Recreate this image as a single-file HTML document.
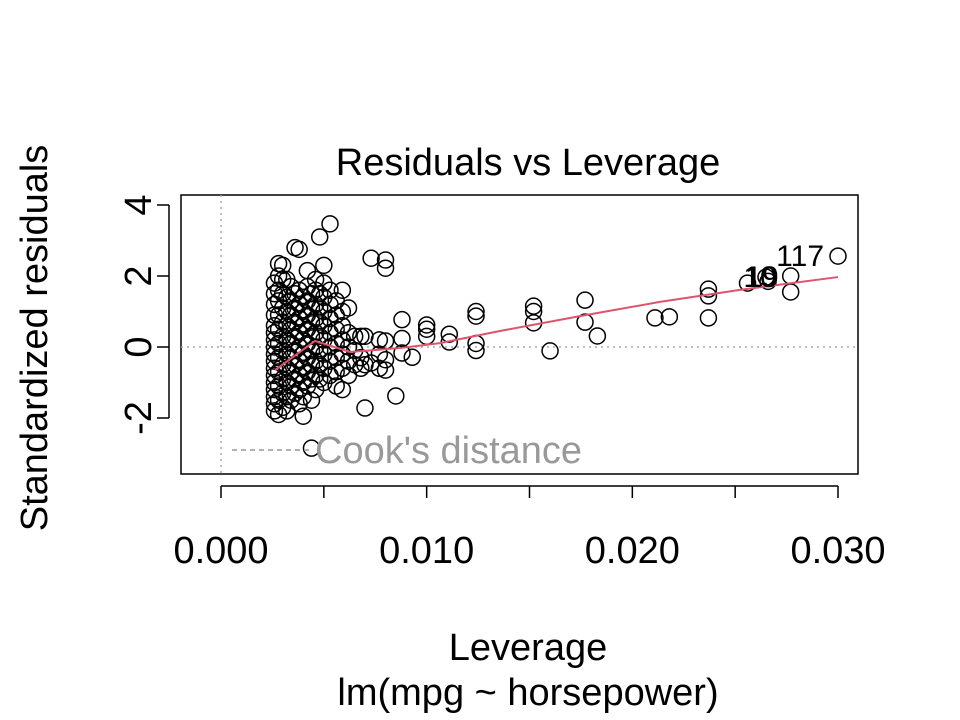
<!DOCTYPE html>
<html><head><meta charset="utf-8"><style>
html,body{margin:0;padding:0;background:#fff;}
svg{display:block;font-family:"Liberation Sans",Arial,sans-serif;}
</style></head><body>
<svg id="chart" width="960" height="720" viewBox="0 0 960 720" xmlns="http://www.w3.org/2000/svg">
<rect width="960" height="720" fill="#fff"/>
<text x="528" y="175" font-size="38" text-anchor="middle">Residuals vs Leverage</text>
<rect x="181" y="195" width="677" height="279" fill="none" stroke="#000" stroke-width="1.5"/>
<g id="grid"></g>
<g id="axes"></g>
<g id="points"></g>
<g id="smooth"></g>
<g id="labels"></g>
<line x1="232" y1="450" x2="312" y2="450" stroke="#999" stroke-width="1.5" stroke-dasharray="5,4"/>
<text x="315" y="463" font-size="38" fill="#999">Cook's distance</text>
<text x="528" y="660" font-size="38" text-anchor="middle">Leverage</text>
<text x="528" y="705" font-size="38" text-anchor="middle">lm(mpg ~ horsepower)</text>
<text x="0" y="0" font-size="38" text-anchor="middle" transform="translate(47,338) rotate(-90)">Standardized residuals</text>
</svg>
<script>
const xTicks = [0, 0.005, 0.010, 0.015, 0.020, 0.025, 0.030];
const xTickLabels = ["0.000", "", "0.010", "", "0.020", "", "0.030"];
const yTicks = [-2, 0, 2, 4];
const yTickLabels = ["-2", "0", "2", "4"];
const colLeverage = [0.0026,0.0028,0.0030,0.0032,0.0034,0.0036,0.0038,0.0040,0.0042,0.0044,0.0046,0.0048,0.0050,0.0053,0.0056,0.0059,0.0062,0.0065,0.0068,0.0070,0.0073,0.0077];
const colResiduals = [
[-1.8,-1.6,-1.4,-1.2,-1.0,-0.8,-0.6,-0.4,-0.2,0,0.2,0.4,0.6,0.9,1.2,1.5,1.8],
[-1.9,-1.5,-1.1,-0.7,-0.3,0.1,0.5,0.9,1.3,1.6,2.0,2.35],
[-1.7,-1.3,-0.9,-0.5,-0.1,0.3,0.7,1.1,1.5,1.9,2.3],
[-1.8,-1.4,-1.0,-0.6,-0.2,0.2,0.6,1.0,1.4,1.9],
[-1.5,-1.1,-0.7,-0.3,0.1,0.5,0.9,1.3,1.7],
[-1.3,-0.9,-0.5,-0.1,0.3,0.7,1.1,1.5,2.8],
[-1.6,-1.2,-0.8,-0.4,0,0.4,0.8,1.2,1.6,2.75],
[-1.4,-1.0,-0.6,-0.2,0.2,0.6,1.0,1.4,-1.95],
[-1.1,-0.7,-0.3,0.1,0.5,0.9,1.3,1.7,2.15],
[-1.5,-0.9,-0.5,-0.1,0.3,0.7,1.1,1.5,-2.85],
[-1.2,-0.8,-0.4,0,0.4,0.8,1.2,1.6,1.9],
[-0.9,-0.5,-0.1,0.3,0.7,1.1,1.5,3.1],
[-1.0,-0.6,-0.2,0.2,0.6,1.0,1.4,1.8,2.3],
[-0.8,-0.4,0,0.4,0.8,1.2,1.6,3.47],
[-1.1,-0.7,-0.3,0.1,0.5,0.9,1.3],
[-1.2,-0.6,-0.2,0.2,0.6,1.0,1.6],
[-0.8,-0.4,0,0.4,1.1],
[-0.5,-0.1,0.3],
[-0.6,-0.3,0.3],
[-1.72,-0.5,0.3],
[2.5,-0.45],
[-0.2,0.2,-0.6]
];
const sparseLeverage = [0.0300,0.0277,0.0277,0.0256,0.0265,0.0266,0.0237,0.0237,0.0237,0.0211,0.0218,0.0177,0.0177,0.0183,0.0160,0.0152,0.0152,0.0152,0.0124,0.0124,0.0124,0.0124,0.0111,0.0111,0.0100,0.0100,0.0100,0.0088,0.0088,0.0088,0.0093,0.0085,0.0080,0.0080,0.0080,0.0080,0.0080];
const sparseResiduals = [2.56,2.0,1.55,1.8,1.97,1.85,1.63,1.44,0.82,0.82,0.85,1.32,0.70,0.31,-0.11,1.15,1.0,0.68,1.0,0.87,0.1,-0.1,0.36,0.14,0.62,0.5,0.3,0.77,0.24,-0.17,-0.29,-1.38,2.45,2.22,0.17,-0.36,-0.65];
const smoothLev = [0.00263,0.00457,0.00627,0.0087,0.01065,0.01356,0.01745,0.02134,0.02523,0.0300];
const smoothRes = [-0.65,0.17,-0.14,-0.03,0.11,0.45,0.87,1.27,1.61,1.97];
const pointLabels = ["117","19","10"];
const pointLabelLev = [0.0300,0.0278,0.0277];
const pointLabelRes = [2.56,1.97,1.97];

const NS="http://www.w3.org/2000/svg";
const sx = v => 221 + v/0.030*617;
const sy = v => 347 - v*35.5;
function mk(tag, attrs, parent){const e=document.createElementNS(NS,tag);for(const k in attrs)e.setAttribute(k,attrs[k]);parent.appendChild(e);return e;}
const grid=document.getElementById('grid'), axes=document.getElementById('axes'), pts=document.getElementById('points'), sm=document.getElementById('smooth'), lb=document.getElementById('labels');
let g1=mk('line',{x1:sx(0),y1:195,x2:sx(0),y2:474,stroke:'#aaa','stroke-width':1.5,'stroke-dasharray':'2,4'},grid);


let g2=mk('line',{x1:181,y1:sy(0),x2:858,y2:sy(0),stroke:'#aaa','stroke-width':1.5,'stroke-dasharray':'2,4'},grid);


let xa=mk('line',{x1:sx(xTicks[0]),y1:486,x2:sx(xTicks[xTicks.length-1]),y2:486,stroke:'#000','stroke-width':1.5},axes);


xTicks.forEach((t,i)=>{
  let l=mk('line',{x1:sx(t),y1:486,x2:sx(t),y2:498,stroke:'#000','stroke-width':1.5},axes);
  
  
  if(xTickLabels[i]){let tx=mk('text',{x:sx(t),y:563,'font-size':38,'text-anchor':'middle'},axes);tx.textContent=xTickLabels[i];
  
  }
});
let ya=mk('line',{x1:169,y1:sy(yTicks[0]),x2:169,y2:sy(yTicks[yTicks.length-1]),stroke:'#000','stroke-width':1.5},axes);


yTicks.forEach((t,i)=>{
  let l=mk('line',{x1:157,y1:sy(t),x2:169,y2:sy(t),stroke:'#000','stroke-width':1.5},axes);
  
  
  let tx=mk('text',{x:0,y:0,'font-size':38,'text-anchor':'middle',transform:`translate(151,${sy(t)}) rotate(-90)`},axes);tx.textContent=yTickLabels[i];
  
  
});
function pt(lv,r){let c=mk('circle',{cx:sx(lv),cy:sy(r),r:8,fill:'none',stroke:'#000','stroke-width':1.5},pts);
  
  }
colLeverage.forEach((lv,i)=>colResiduals[i].forEach(r=>pt(lv,r)));
sparseLeverage.forEach((lv,i)=>pt(lv,sparseResiduals[i]));
let p=mk('polyline',{points:smoothLev.map((v,i)=>sx(v)+','+sy(smoothRes[i])).join(' '),fill:'none',stroke:'#DF536B','stroke-width':2},sm);


pointLabels.forEach((s,i)=>{
  let t=mk('text',{x:sx(pointLabelLev[i])-14,y:sy(pointLabelRes[i])+10,'font-size':30,'text-anchor':'end'},lb);t.textContent=s;
  
  
});
</script>
</body></html>
